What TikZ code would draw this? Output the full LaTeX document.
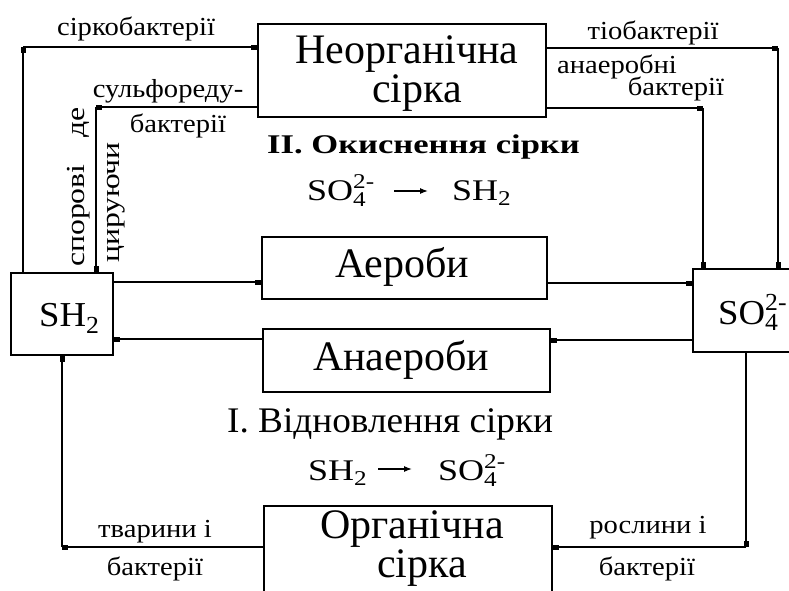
\documentclass[tikz,border=0pt]{standalone}
\usepackage{amsmath}
\usepackage{fontspec}
\setmainfont{Liberation Serif}
\usetikzlibrary{arrows.meta}
\newcommand{\lab}[1]{\scalebox{1.1}[1]{\fontsize{26}{28}\selectfont #1}}
\newcommand{\vlab}[1]{\scalebox{1.22}[1]{\fontsize{26}{28}\selectfont #1}}
\newcommand{\boxfont}{\fontsize{42}{42}\selectfont}
\newcommand{\sofour}{$\text{SO}_{\text{4}}^{\text{2-}}$}
\newcommand{\shtwo}{$\text{SH}_{\text{2}}$}
\newcommand{\chem}[1]{\scalebox{1.05}[1]{\fontsize{35}{35}\selectfont #1}}
\newcommand{\form}[1]{\scalebox{1.2}[1]{\fontsize{30}{30}\selectfont #1}}
\begin{document}
\begin{tikzpicture}[x=1pt,y=-1pt,
  box/.style={draw, line width=1.8pt, inner sep=0pt},
  conn/.style={line width=1.8pt, -{Rectangle[length=6pt,width=5pt]}},
  farrow/.style={line width=1.2pt, -{Latex[length=8pt,width=6pt]}},
  txt/.style={inner sep=0pt, anchor=base},
  txtw/.style={inner sep=0pt, anchor=base west}]
\useasboundingbox (0,0) rectangle (789,590);
\fill[white] (0,0) rectangle (789,590);
\clip (0,0) rectangle (789,590);

% boxes
\node[box, minimum width=288pt, minimum height=93pt] (neorg) at (402,70.5) {};
\node[box, minimum width=102pt, minimum height=82pt] (sh) at (62,314) {};
\node[box, minimum width=114pt, minimum height=83pt] (so) at (750,310.5) {};
\node[box, minimum width=285pt, minimum height=62pt] (aer) at (404.5,268) {};
\node[box, minimum width=287pt, minimum height=63pt] (anaer) at (406.5,360.5) {};
\node[box, minimum width=288pt, minimum height=94pt] (org) at (408,553) {};

% box texts
\node[txt, font=\boxfont] (tneorg1) at (407,63) {Неорганічна};
\node[txt, font=\boxfont] (tneorg2) at (417,102) {сірка};
\node[txt, font=\boxfont] (taer) at (402,277) {Аероби};
\node[txt, font=\boxfont] (tanaer) at (401,370) {Анаероби};
\node[txt, font=\boxfont] (torg1) at (412,538) {Органічна};
\node[txt, font=\boxfont] (torg2) at (422,577) {сірка};
\node[txtw] (tsh) at (39,326) {\chem{\shtwo}};
\node[txtw] (tso) at (718,324) {\chem{\sofour}};

% headings and formulas
\node[txtw] (h2) at (267,153) {\scalebox{1.28}[1]{\fontsize{27}{27}\selectfont\bfseries II. Окиснення сірки}};
\node[txtw] (f2a) at (307,200) {\form{\sofour}};
\node[txtw] (f2b) at (452,200) {\form{\shtwo}};
\coordinate (f2s) at (394,191);
\coordinate (f2e) at (428,191);
\draw[farrow] (f2s) -- (f2e);

\node[txtw] (h1) at (227,432) {\scalebox{1.035}[1]{\fontsize{36}{36}\selectfont I. Відновлення сірки}};
\node[txtw] (f1a) at (308,480) {\form{\shtwo}};
\node[txtw] (f1b) at (438,480) {\form{\sofour}};
\coordinate (f1s) at (378,469);
\coordinate (f1e) at (412,469);
\draw[farrow] (f1s) -- (f1e);

% connectors
\coordinate (c1) at (23,47);
\draw[conn] (c1 |- sh.north) -- (c1);
\draw[conn] (c1) -- (c1 -| neorg.west);
\coordinate (c2) at (96,107);
\draw[conn] (c2 -| neorg.west) -- (c2);
\draw[conn] (c2) -- (c2 |- sh.north);
\coordinate (c3) at (778,48);
\draw[conn] (c3 -| neorg.east) -- (c3);
\draw[conn] (c3) -- (c3 |- so.north);
\coordinate (c4) at (703,108);
\draw[conn] (c4 -| neorg.east) -- (c4);
\draw[conn] (c4) -- (c4 |- so.north);
\coordinate (y5) at (0,282);
\draw[conn] (sh.east |- y5) -- (aer.west |- y5);
\coordinate (y6) at (0,283);
\draw[conn] (aer.east |- y6) -- (so.west |- y6);
\coordinate (y7) at (0,340);
\draw[conn] (so.west |- y7) -- (anaer.east |- y7);
\coordinate (y8) at (0,339);
\draw[conn] (anaer.west |- y8) -- (sh.east |- y8);
\coordinate (c9) at (746,547);
\draw[conn] (c9 |- so.south) -- (c9);
\draw[conn] (c9) -- (c9 -| org.east);
\coordinate (c10) at (62,547);
\draw[conn] (c10 -| org.west) -- (c10);
\draw[conn] (c10) -- (c10 |- sh.south);

% connector labels
\node[txt] (l1) at (136,35) {\lab{сіркобактерії}};
\node[txt] (l2) at (168,97) {\lab{сульфореду-}};
\node[txt] (l3) at (178,132) {\lab{бактерії}};
\node[txt, rotate=90, anchor=base west] (l4) at (84,267) {\vlab{спорові\hspace{22pt}де}};
\node[txt, rotate=90, anchor=base west] (l5) at (119,263) {\vlab{цируючи}};
\node[txt] (l6) at (653,39) {\lab{тіобактерії}};
\node[txt] (l7) at (617,73) {\lab{анаеробні}};
\node[txt] (l8) at (676,95) {\lab{бактерії}};
\node[txt] (l9) at (155,537) {\lab{тварини і}};
\node[txt] (l10) at (155,575) {\lab{бактерії}};
\node[txt] (l11) at (648,533) {\lab{рослини і}};
\node[txt] (l12) at (647,575) {\lab{бактерії}};
\end{tikzpicture}
\end{document}
